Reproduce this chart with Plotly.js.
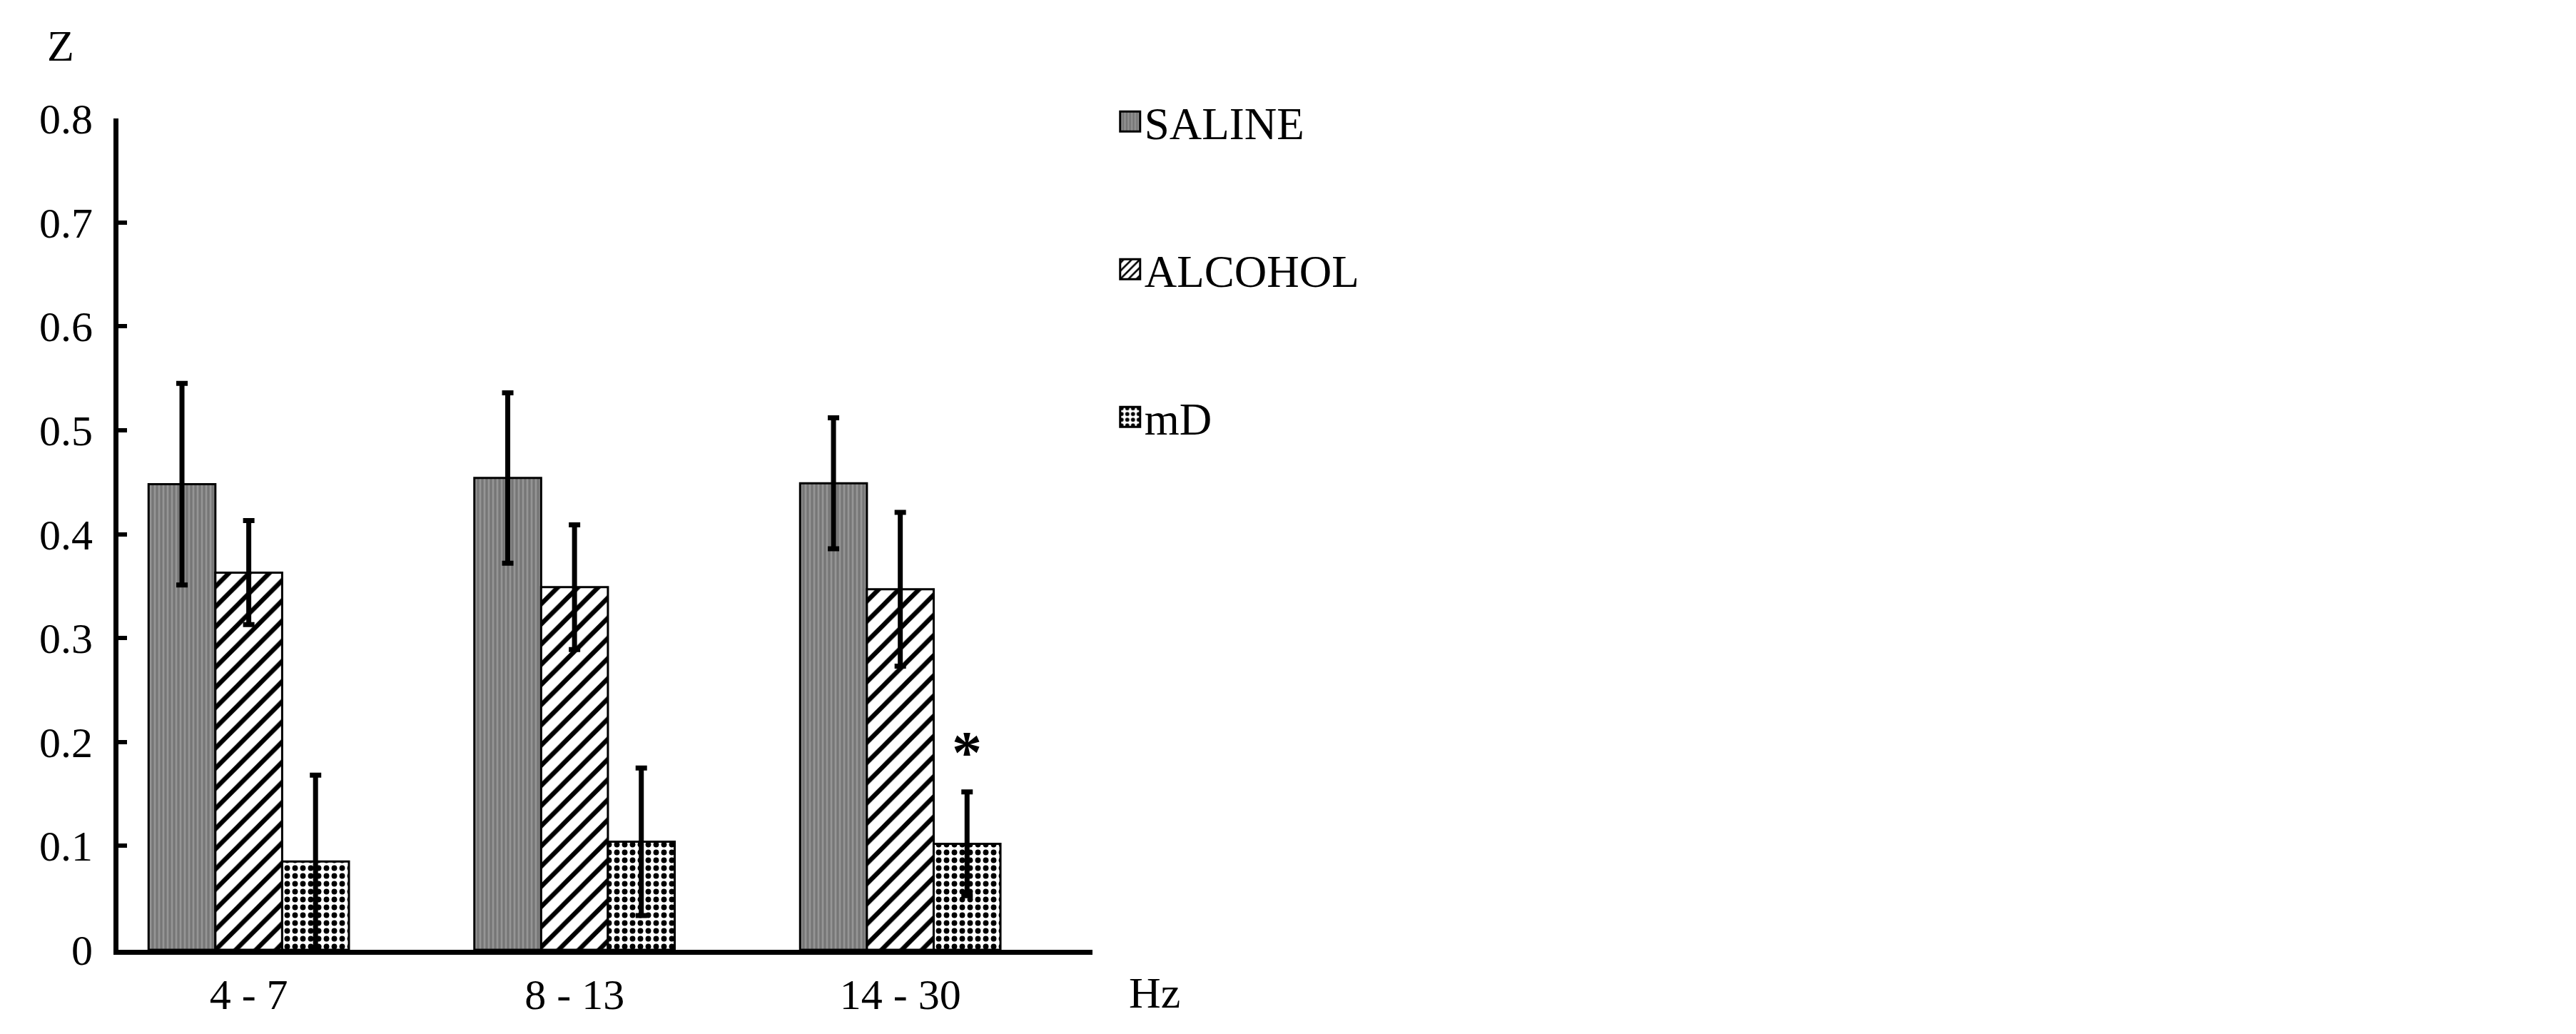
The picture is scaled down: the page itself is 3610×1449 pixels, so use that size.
<!DOCTYPE html>
<html>
<head>
<meta charset="utf-8">
<script src="https://cdn.plot.ly/plotly-3.0.1.min.js"></script>
<style>html,body{margin:0;padding:0;background:#fff;}</style>
</head>
<body>
<div id="chart" style="width:3610px;height:1449px;"></div>
<script>
const categories = ['4 - 7', '8 - 13', '14 - 30'];
const salineValues = [0.448, 0.454, 0.449];
const salineErrors = [0.097, 0.082, 0.063];
const alcoholValues = [0.363, 0.349, 0.347];
const alcoholErrors = [0.050, 0.060, 0.074];
const mdValues = [0.085, 0.104, 0.102];
const mdErrors = [0.083, 0.071, 0.050];
const yTickValues = [0, 0.1, 0.2, 0.3, 0.4, 0.5, 0.6, 0.7, 0.8];
const yTickLabels = ['0', '0.1', '0.2', '0.3', '0.4', '0.5', '0.6', '0.7', '0.8'];
const starLabel = '*';
const starCategoryIndex = 2;
const starValue = 0.19;

const FONT = 'Liberation Serif, Times New Roman, serif';
const BARGAP = 0.385;
const errStyle = (arr) => ({type: 'data', array: arr, visible: true, color: '#000', thickness: 7, width: 8});

const traces = [
  {
    type: 'bar', name: 'SALINE', x: categories, y: salineValues,
    error_y: errStyle(salineErrors), legendgroup: 'a',
    marker: {color: '#808080', line: {color: '#000', width: 3},
      pattern: {shape: '|', bgcolor: '#767676', fgcolor: '#b4b4b4', size: 6, solidity: 0.45, fillmode: 'overlay'}}
  },
  {
    type: 'bar', name: 'ALCOHOL', x: categories, y: alcoholValues,
    error_y: errStyle(alcoholErrors), legendgroup: 'b',
    marker: {color: '#fff', line: {color: '#000', width: 3},
      pattern: {shape: '/', bgcolor: '#fff', fgcolor: '#000', size: 20, solidity: 0.32}}
  },
  {
    type: 'bar', name: 'mD', x: categories, y: mdValues,
    error_y: errStyle(mdErrors), legendgroup: 'c',
    marker: {color: '#fff', line: {color: '#000', width: 3},
      pattern: {shape: '.', bgcolor: '#fff', fgcolor: '#000', size: 11, solidity: 0.4}}
  }
];

const barWidth = (1 - BARGAP) / 3;

const layout = {
  width: 3610, height: 1449,
  paper_bgcolor: '#fff', plot_bgcolor: '#fff',
  margin: {l: 166, r: 2079, t: 166, b: 118},
  barmode: 'group', bargap: BARGAP, bargroupgap: 0,
  font: {family: FONT, size: 60, color: '#000'},
  showlegend: true,
  legend: {
    x: 1.024, xanchor: 'left', y: 1.037, yanchor: 'top',
    font: {family: FONT, size: 63, color: '#000'},
    tracegroupgap: 122, bgcolor: 'rgba(0,0,0,0)', borderwidth: 0,
    itemsizing: 'constant'
  },
  xaxis: {
    type: 'category', range: [-0.4, 2.59],
    showline: true, linecolor: '#000', linewidth: 7,
    ticks: '', showgrid: false, zeroline: false,
    tickfont: {family: FONT, size: 60, color: '#000'},
    ticklabelstandoff: 4
  },
  yaxis: {
    range: [0, 0.8], tickvals: yTickValues, ticktext: yTickLabels,
    showline: true, linecolor: '#000', linewidth: 7,
    ticks: 'inside', ticklen: 12, tickwidth: 6, tickcolor: '#000',
    showgrid: false, zeroline: false,
    tickfont: {family: FONT, size: 60, color: '#000'},
    ticklabelstandoff: 17
  },
  annotations: [
    {text: 'Z', xref: 'paper', yref: 'paper', x: -0.059, y: 1.0876, xanchor: 'center', yanchor: 'middle',
     showarrow: false, font: {family: FONT, size: 62, color: '#000'}},
    {text: 'Hz', xref: 'paper', yref: 'paper', x: 1.064, y: -0.0515, xanchor: 'center', yanchor: 'middle',
     showarrow: false, font: {family: FONT, size: 62, color: '#000'}},
    {text: starLabel, xref: 'x', yref: 'y', x: starCategoryIndex + barWidth, y: starValue,
     xanchor: 'center', yanchor: 'middle', showarrow: false,
     font: {family: FONT, size: 84, color: '#000', weight: 'bold'}}
  ]
};

Plotly.newPlot('chart', traces, layout, {displayModeBar: false, staticPlot: true}).then(function (gd) {
  gd.querySelectorAll('.legend .legendpoints path').forEach(function (p) {
    p.setAttribute('d', 'M14,14H-14V-14H14Z');
    p.style.strokeWidth = '3px';
  });
});
</script>
</body>
</html>
